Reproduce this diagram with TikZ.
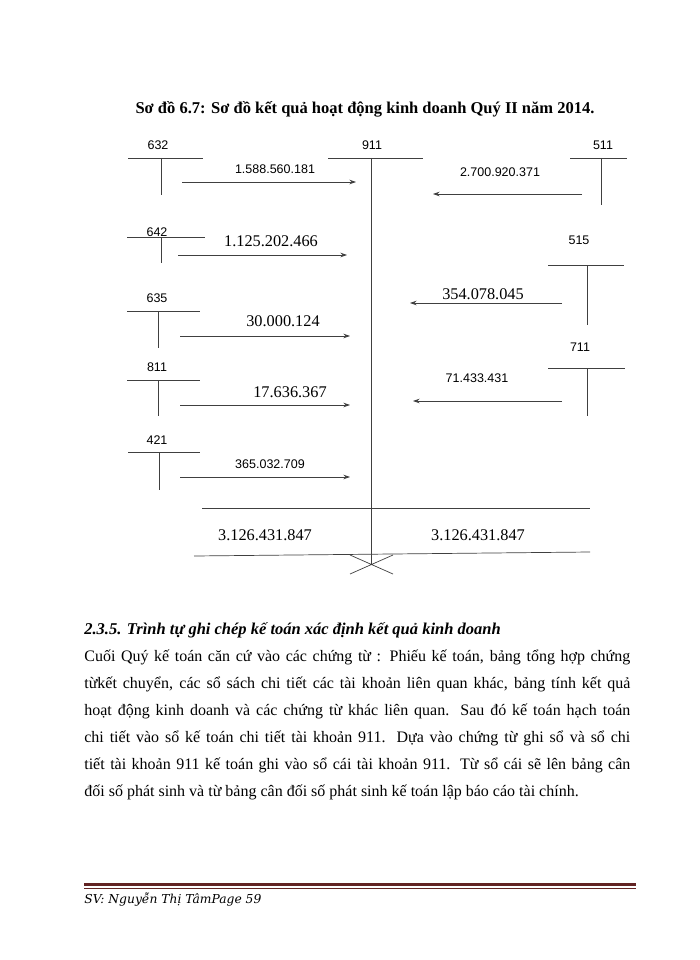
\documentclass[tikz,border=0pt]{standalone}
\usepackage{fontspec}
\setmainfont{Liberation Serif}
\newfontfamily\lblfont{Liberation Sans}
\newfontfamily\footfont{DejaVu Serif}
\usetikzlibrary{arrows.meta}
\definecolor{footred}{HTML}{622423}
\begin{document}
\begin{tikzpicture}[x=1pt,y=-1pt,line width=0.7pt,
 acct/.style={draw=black!75},
 flow/.style={draw=black!75,-{Stealth[length=6.5pt,width=4.5pt]}},
 num/.style={font=\lblfont\fontsize{12.5}{14}\selectfont,inner sep=0pt},
 amt/.style={font=\fontsize{16.3}{19}\selectfont,inner sep=0pt},
 bodyline/.style={anchor=base west,inner sep=0pt,
  font=\fontsize{16}{19}\selectfont}]
\useasboundingbox[fill=white] (0,0) rectangle (700,960);

% title
\node[anchor=base,inner sep=0pt,font=\bfseries\fontsize{16.5}{19}\selectfont]
 (title) at (365,114) {Sơ đồ 6.7: Sơ đồ kết quả hoạt động kinh doanh Quý II năm 2014.};

% T-accounts: name/label x/label y/left/right/stem x/top/bottom
\foreach \nm/\lx/\ly/\xl/\xr/\xm/\yt/\yb in {
  632/158/145/128/203/161/158/195,
  642/157/232/127/205/161/237/263,
  635/157/298/127/200/158/311/348,
  811/157/367/127/200/158/380/416,
  421/157/440/128/200/159/452/490,
  511/603/145/570/627/601/158/205,
  515/579/240/548/624/587/265/325,
  711/580/347/548/625/587/368/416}{
  \node[num] (a\nm) at (\lx,\ly) {\nm};
  \draw[acct] (\xl,\yt) -- (\xr,\yt) (\xm,\yt) -- (\xm,\yb);
}

% account 911
\node[num] (a911) at (372,145) {911};
\coordinate (k911t) at (371,158);
\coordinate (k911x) at (371,565);
\draw[acct] (328,158) -- (423,158);
\draw[acct] (k911t) -- (k911x);
\draw[acct] (350,555) -- (393,574) (350,574) -- (393,555);

% transfers into 911
\foreach \i/\xs/\xe/\y/\tx/\ty/\st/\val in {
  1/182/356/182/275/169/num/1.588.560.181,
  2/178/347/255/271/241/amt/1.125.202.466,
  3/180/350/336/283/321/amt/30.000.124,
  4/180/350/405/290/392/amt/17.636.367,
  5/180/350/477/270/464/num/365.032.709,
  6/582/433/194/500/172/num/2.700.920.371,
  7/562/410/303/483/294/amt/354.078.045,
  8/562/413/401/477/378/num/71.433.431}{
  \coordinate (s\i) at (\xs,\y);
  \coordinate (e\i) at (\xe,\y);
  \draw[flow] (s\i) -- (e\i);
  \node[\st] (v\i) at (\tx,\ty) {\val};
}

% totals
\draw[acct] (202,508) -- (590,508);
\draw[acct] (194,556) -- (590,552);
\node[amt] (totl) at (265,535) {3.126.431.847};
\node[amt] (totr) at (478,535) {3.126.431.847};

% text below the diagram
\node[bodyline,font=\bfseries\itshape\fontsize{16.5}{19}\selectfont] (head) at (84,634)
 {2.3.5. Trình tự ghi chép kế toán xác định kết quả kinh doanh};
\node[bodyline] (l1) at (84,661) {\makebox[546pt][s]{Cuối Quý kế toán căn cứ vào các chứng từ : Phiếu kế toán, bảng tổng hợp chứng}};
\node[bodyline] (l2) at (84,688) {\makebox[546pt][s]{từkết chuyển, các sổ sách chi tiết các tài khoản liên quan khác, bảng tính kết quả}};
\node[bodyline] (l3) at (84,715) {\makebox[546pt][s]{hoạt động kinh doanh và các chứng từ khác liên quan. Sau đó kế toán hạch toán}};
\node[bodyline] (l4) at (84,742) {\makebox[546pt][s]{chi tiết vào sổ kế toán chi tiết tài khoản 911. Dựa vào chứng từ ghi sổ và sổ chi}};
\node[bodyline] (l5) at (84,769) {\makebox[546pt][s]{tiết tài khoản 911 kế toán ghi vào sổ cái tài khoản 911. Từ sổ cái sẽ lên bảng cân}};
\node[bodyline] (l6) at (84,796) {đối số phát sinh và từ bảng cân đối số phát sinh kế toán lập báo cáo tài chính.};

% footer
\draw[footred,line width=3pt] (84,884) -- (636,884);
\draw[footred,line width=0.7pt] (84,888.5) -- (636,888.5);
\node[anchor=base west,inner sep=0pt,font=\footfont\itshape\fontsize{12.3}{14}\selectfont]
 (foot) at (84,903) {SV: Nguyễn Thị TâmPage 59};
\end{tikzpicture}
\end{document}
